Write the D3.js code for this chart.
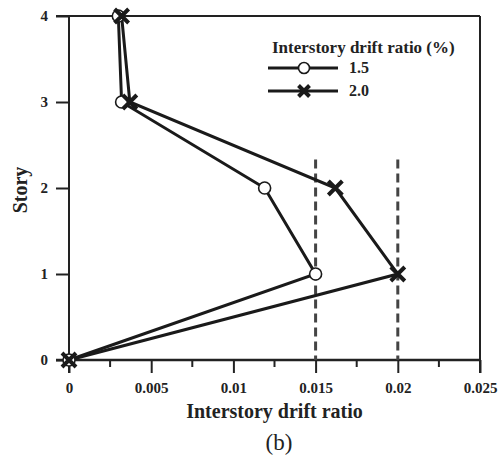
<!DOCTYPE html>
<html>
<head>
<meta charset="utf-8">
<script src="https://cdn.jsdelivr.net/npm/d3@7"></script>
<style>
  body { margin: 0; background: #fff; }
  text { font-family: "Liberation Serif", "Times New Roman", serif; }
</style>
</head>
<body>
<div id="chart"></div>
<script>
var stories = [0, 1, 2, 3, 4];
var drift15 = [0, 0.015, 0.0119, 0.0032, 0.0030];
var drift20 = [0, 0.020, 0.0162, 0.0037, 0.0032];
var xTicks = [0, 0.005, 0.01, 0.015, 0.02, 0.025];
var xTickLabels = ["0", "0.005", "0.01", "0.015", "0.02", "0.025"];
var xMinorTicks = [0.0025, 0.0075, 0.0125, 0.0175, 0.0225];
var yTicks = [0, 1, 2, 3, 4];
var limitLines = [0.015, 0.02];
var legendLabels = ["1.5", "2.0"];

var width = 498, height = 463;
var plotLeft = 69, plotRight = 480, plotTop = 16, plotBottom = 360;

var svg = d3.select("#chart").append("svg")
  .attr("width", width)
  .attr("height", height);

var x = d3.scaleLinear().domain([0, 0.025]).range([plotLeft, plotRight]);
var y = d3.scaleLinear().domain([0, 4]).range([plotBottom, plotTop]);

// frame
svg.append("line").attr("x1", plotLeft - 13).attr("x2", plotRight).attr("y1", plotTop).attr("y2", plotTop)
  .attr("stroke", "#222").attr("stroke-width", 2);
svg.append("line").attr("x1", plotRight).attr("x2", plotRight).attr("y1", plotTop).attr("y2", plotBottom + 13)
  .attr("stroke", "#222").attr("stroke-width", 2);

// x axis
var xAxis = svg.append("g").attr("transform", "translate(0," + plotBottom + ")")
  .call(d3.axisBottom(x).tickValues(xTicks).tickSize(13).tickFormat(function (d, i) { return xTickLabels[i]; }));
xAxis.select(".domain").attr("d", "M" + (plotLeft - 13) + ",0H" + plotRight).attr("stroke", "#222").attr("stroke-width", 2.5);
xAxis.selectAll(".tick line").attr("stroke", "#222").attr("stroke-width", 2);
xAxis.selectAll(".tick text")
  .attr("font-family", "Liberation Serif").attr("font-weight", "bold").attr("font-size", 15)
  .attr("fill", "#222").attr("y", 33).attr("dy", null);
svg.append("g").selectAll("line").data(xMinorTicks).enter().append("line")
  .attr("x1", function (d) { return x(d); }).attr("x2", function (d) { return x(d); })
  .attr("y1", plotBottom).attr("y2", plotBottom + 7)
  .attr("stroke", "#222").attr("stroke-width", 2);

// y axis
var yAxis = svg.append("g").attr("transform", "translate(" + plotLeft + ",0)")
  .call(d3.axisLeft(y).tickValues(yTicks).tickSize(13).tickFormat(d3.format("d")));
yAxis.select(".domain").attr("d", "M0," + plotTop + "V" + (plotBottom + 13)).attr("stroke", "#222").attr("stroke-width", 2);
yAxis.selectAll(".tick line").attr("stroke", "#222").attr("stroke-width", 2);
yAxis.selectAll(".tick text")
  .attr("font-family", "Liberation Serif").attr("font-weight", "bold").attr("font-size", 15)
  .attr("fill", "#222").attr("x", -21);

// limit lines
svg.append("g").selectAll("line").data(limitLines).enter().append("line")
  .attr("x1", function (d) { return x(d); }).attr("x2", function (d) { return x(d); })
  .attr("y1", y(2.33)).attr("y2", plotBottom)
  .attr("stroke", "#444").attr("stroke-width", 3).attr("stroke-dasharray", "9,5");

// series
var line = d3.line()
  .x(function (d) { return x(d[0]); })
  .y(function (d) { return y(d[1]); });
var pts15 = drift15.map(function (v, i) { return [v, stories[i]]; });
var pts20 = drift20.map(function (v, i) { return [v, stories[i]]; });

svg.append("path").datum(pts15).attr("d", line)
  .attr("fill", "none").attr("stroke", "#1a1a1a").attr("stroke-width", 3);
svg.append("path").datum(pts20).attr("d", line)
  .attr("fill", "none").attr("stroke", "#1a1a1a").attr("stroke-width", 3);

function drawCircle(g, cx, cy, r) {
  g.append("circle").attr("cx", cx).attr("cy", cy).attr("r", r)
    .attr("fill", "#fff").attr("stroke", "#1a1a1a").attr("stroke-width", 1.6);
}
function drawCross(g, cx, cy, s) {
  g.append("path")
    .attr("d", "M" + (cx - s) + "," + (cy - s) + "L" + (cx + s) + "," + (cy + s) +
      "M" + (cx - s) + "," + (cy + s) + "L" + (cx + s) + "," + (cy - s))
    .attr("stroke", "#1a1a1a").attr("stroke-width", 4).attr("fill", "none");
}

var markers = svg.append("g");
pts15.forEach(function (p) { drawCircle(markers, x(p[0]), y(p[1]), 6); });
pts20.forEach(function (p) { drawCross(markers, x(p[0]), y(p[1]), 7); });

// legend
var legend = svg.append("g");
legend.append("text").attr("x", 272).attr("y", 53)
  .attr("font-weight", "bold").attr("font-size", 17).attr("fill", "#222")
  .text("Interstory drift ratio (%)");
legendLabels.forEach(function (lab, i) {
  var ly = 68 + i * 23;
  legend.append("line").attr("x1", 268).attr("x2", 338).attr("y1", ly).attr("y2", ly)
    .attr("stroke", "#1a1a1a").attr("stroke-width", 3);
  if (i === 0) drawCircle(legend, 304, ly, 5.5); else drawCross(legend, 304, ly, 5.5);
  legend.append("text").attr("x", 349).attr("y", ly + 5)
    .attr("font-weight", "bold").attr("font-size", 16).attr("fill", "#222").text(lab);
});

// titles
svg.append("text").attr("x", 274.5).attr("y", 418).attr("text-anchor", "middle")
  .attr("font-weight", "bold").attr("font-size", 20).attr("fill", "#222")
  .text("Interstory drift ratio");
svg.append("text").attr("transform", "translate(27,190) rotate(-90)").attr("text-anchor", "middle")
  .attr("font-weight", "bold").attr("font-size", 20).attr("fill", "#222")
  .text("Story");
svg.append("text").attr("x", 279).attr("y", 450).attr("text-anchor", "middle")
  .attr("font-size", 23).attr("fill", "#222")
  .text("(b)");
</script>
</body>
</html>
